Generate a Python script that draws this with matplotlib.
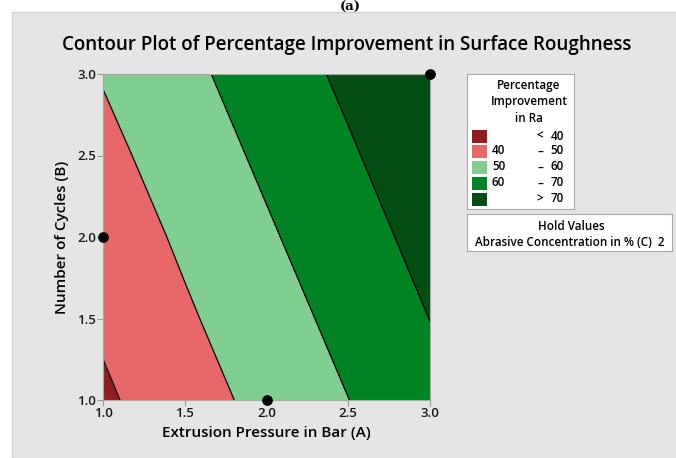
import numpy as np
import matplotlib.pyplot as plt
from matplotlib.patches import Rectangle

# fitted response at a 5x5 grid of settings
pressure = [1.0, 1.5, 2.0, 2.5, 3.0]  # Extrusion Pressure in Bar (A)
cycles = [1.0, 1.5, 2.0, 2.5, 3.0]  # Number of Cycles (B)
improvement = [  # rows = cycles, cols = pressure
    [38.5, 45.7, 52.8, 59.9, 67.1],
    [41.5, 48.7, 55.8, 62.9, 70.1],
    [44.3, 51.6, 58.8, 65.9, 73.1],
    [47.4, 54.7, 61.8, 68.9, 76.1],
    [50.6, 57.7, 64.8, 71.9, 79.1],
]
design_a = [1.0, 2.0, 3.0]
design_b = [2.0, 1.0, 3.0]

levels = [0, 40, 50, 60, 70, 100]
colors = ["#931c20", "#e86868", "#80ce90", "#008423", "#044e14"]
legend_labels = [("", "<", "40"), ("40", "–", "50"), ("50", "–", "60"),
                 ("60", "–", "70"), ("", ">", "70")]

plt.rcParams["font.family"] = ["Open Sans", "DejaVu Sans"]
W, H = 676, 458
fig = plt.figure(figsize=(W / 100, H / 100), dpi=100)
fig.patch.set_facecolor("white")

# gray panel
fig.patches.append(Rectangle((12 / W, 0), 1, (H - 12) / H, transform=fig.transFigure,
                             facecolor="#e5e5e5", edgecolor="#d4d4d4", lw=1, zorder=-5))
fig.text(350 / W, 1 - 0.5 / H, "(a)", ha="center", va="top", fontsize=9.5,
         fontweight="bold", family="DejaVu Serif")

fig.text(347 / W, 1 - 45 / H, "Contour Plot of Percentage Improvement in Surface Roughness",
         ha="center", va="center", fontsize=13.5, fontweight="semibold")

ax = fig.add_axes([103 / W, 58 / H, 327 / W, 326 / H])
X, Y = np.meshgrid(pressure, cycles)
Z = np.array(improvement)
ax.contourf(X, Y, Z, levels=levels, colors=colors)
ax.contour(X, Y, Z, levels=levels[1:-1], colors="black", linewidths=0.9)
ax.scatter(design_a, design_b, s=45, color="black", zorder=5, clip_on=False)

ax.set_xlim(1, 3)
ax.set_ylim(1, 3)
ax.set_xticks([1.0, 1.5, 2.0, 2.5, 3.0])
ax.set_yticks([1.0, 1.5, 2.0, 2.5, 3.0])
ax.set_xticklabels(["1.0", "1.5", "2.0", "2.5", "3.0"], fontweight="semibold")
ax.set_yticklabels(["1.0", "1.5", "2.0", "2.5", "3.0"], fontweight="semibold")
ax.tick_params(colors="#9a9a9a", labelcolor="#1a1a1a", labelsize=9.5, length=4, pad=1)
for s in ax.spines.values():
    s.set_color("#a8a8a8")
ax.set_xlabel("Extrusion Pressure in Bar (A)", fontsize=11, fontweight="semibold", labelpad=4)
ax.set_ylabel("Number of Cycles (B)", fontsize=11, fontweight="semibold", labelpad=6)

# legend box
lg = fig.add_axes([467 / W, 1 - 209 / H, 107 / W, 135 / H])
lg.set_xlim(467, 574)
lg.set_ylim(209, 74)
lg.set_xticks([])
lg.set_yticks([])
lg.set_facecolor("white")
for s in lg.spines.values():
    s.set_color("#a8a8a8")
fs = 8.4
for i, t in enumerate(["Percentage", "Improvement", "in Ra"]):
    lg.text(529, 86 + i * 16, t, ha="center", va="center", fontsize=fs, fontweight="semibold")
for i, (lo, sep, hi) in enumerate(legend_labels):
    yc = [136, 151, 167, 183, 199][i]
    lg.add_patch(Rectangle((472, yc - 6), 15, 13, facecolor=colors[i], edgecolor="none"))
    lg.text(492, yc, lo, ha="left", va="center", fontsize=fs, fontweight="semibold")
    lg.text(540, yc, sep, ha="center", va="center", fontsize=fs, fontweight="semibold")
    lg.text(564, yc, hi, ha="right", va="center", fontsize=fs, fontweight="semibold")

hv = fig.add_axes([467 / W, 1 - 251 / H, 205 / W, 37 / H])
hv.set_xlim(467, 672)
hv.set_ylim(251, 214)
hv.set_xticks([])
hv.set_yticks([])
hv.set_facecolor("white")
for s in hv.spines.values():
    s.set_color("#a8a8a8")
hv.text(571, 226, "Hold Values", ha="center", va="center", fontsize=fs, fontweight="semibold")
hv.text(570, 243, "Abrasive Concentration in % (C)  2", ha="center", va="center",
        fontsize=fs, fontweight="semibold")

plt.savefig("out.png", dpi=100)
